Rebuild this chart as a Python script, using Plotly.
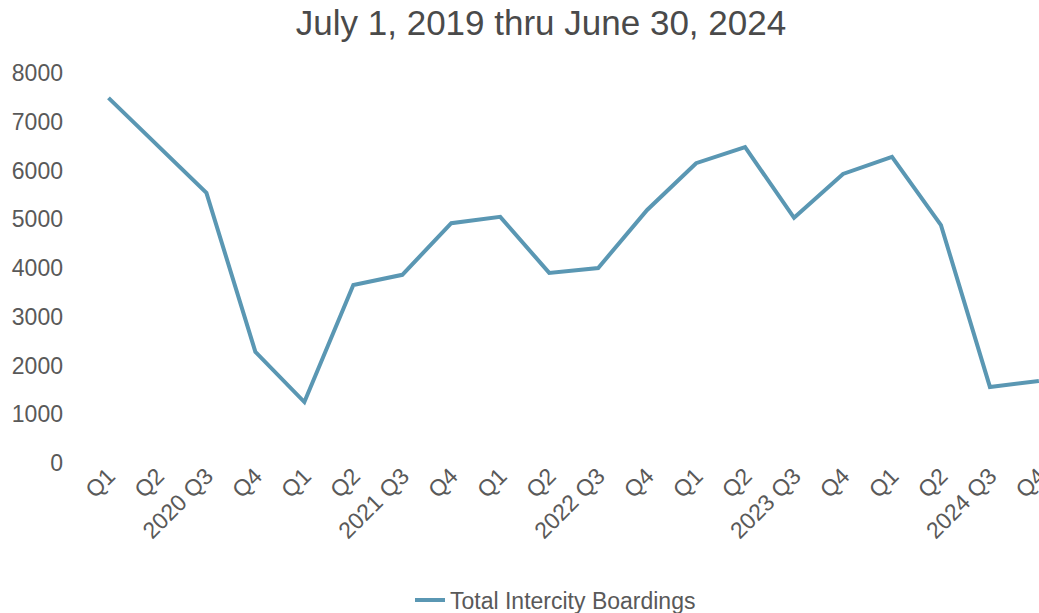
import plotly.graph_objects as go

# Quarterly intercity boardings, July 2019 - June 2024
quarters = ["Q1", "Q2", "2020 Q3", "Q4",
            "Q1", "Q2", "2021 Q3", "Q4",
            "Q1", "Q2", "2022 Q3", "Q4",
            "Q1", "Q2", "2023 Q3", "Q4",
            "Q1", "Q2", "2024 Q3", "Q4"]
boardings = [7490, 6520, 5540, 2280,
             1250, 3650, 3860, 4920,
             5050, 3900, 4000, 5190,
             6150, 6480, 5030, 5930,
             6280, 4880, 1560, 1680]
y_ticks = [0, 1000, 2000, 3000, 4000, 5000, 6000, 7000, 8000]

W, H = 1039, 613
ML, MR, MT, MB = 84, 0, 73, 150

x_idx = list(range(len(quarters)))

fig = go.Figure()
fig.add_trace(go.Scatter(
    x=x_idx, y=boardings, mode="lines",
    name="Total Intercity Boardings",
    line=dict(color="#5a97b3", width=4),
    cliponaxis=False,
))

fig.update_layout(
    width=W, height=H,
    margin=dict(l=ML, r=MR, t=MT, b=MB, autoexpand=False),
    paper_bgcolor="white", plot_bgcolor="white",
    font=dict(family="Liberation Sans, Arial, sans-serif", color="#595959"),
    title=dict(
        text="July 1, 2019 thru June 30, 2024",
        xref="container", yref="container",
        x=541 / W, xanchor="center",
        y=1 - 23 / H, yanchor="middle",
        font=dict(size=35, color="#4a4a4a"),
    ),
    showlegend=True,
    legend=dict(
        orientation="h",
        xref="container", yref="container",
        x=410 / W, xanchor="left",
        y=1 - 600 / H, yanchor="middle",
        font=dict(size=23, color="#595959"),
        bgcolor="rgba(0,0,0,0)",
    ),
    xaxis=dict(
        range=[-0.5, len(quarters) - 1 + 0.002],
        tickmode="array", tickvals=x_idx, ticktext=quarters,
        tickangle=-45,
        tickfont=dict(size=23, color="#595959"),
        showgrid=False, zeroline=False, showline=False,
        ticks="", ticklabelstandoff=-6,
        ticklabeloverflow="allow",
        automargin=False,
    ),
    yaxis=dict(
        range=[0, 8000],
        tickmode="array", tickvals=y_ticks,
        tickfont=dict(size=23, color="#595959"),
        showgrid=False, zeroline=False, showline=False,
        ticks="", ticklabelstandoff=20,
        automargin=False,
    ),
)

fig.write_html("out.html")
